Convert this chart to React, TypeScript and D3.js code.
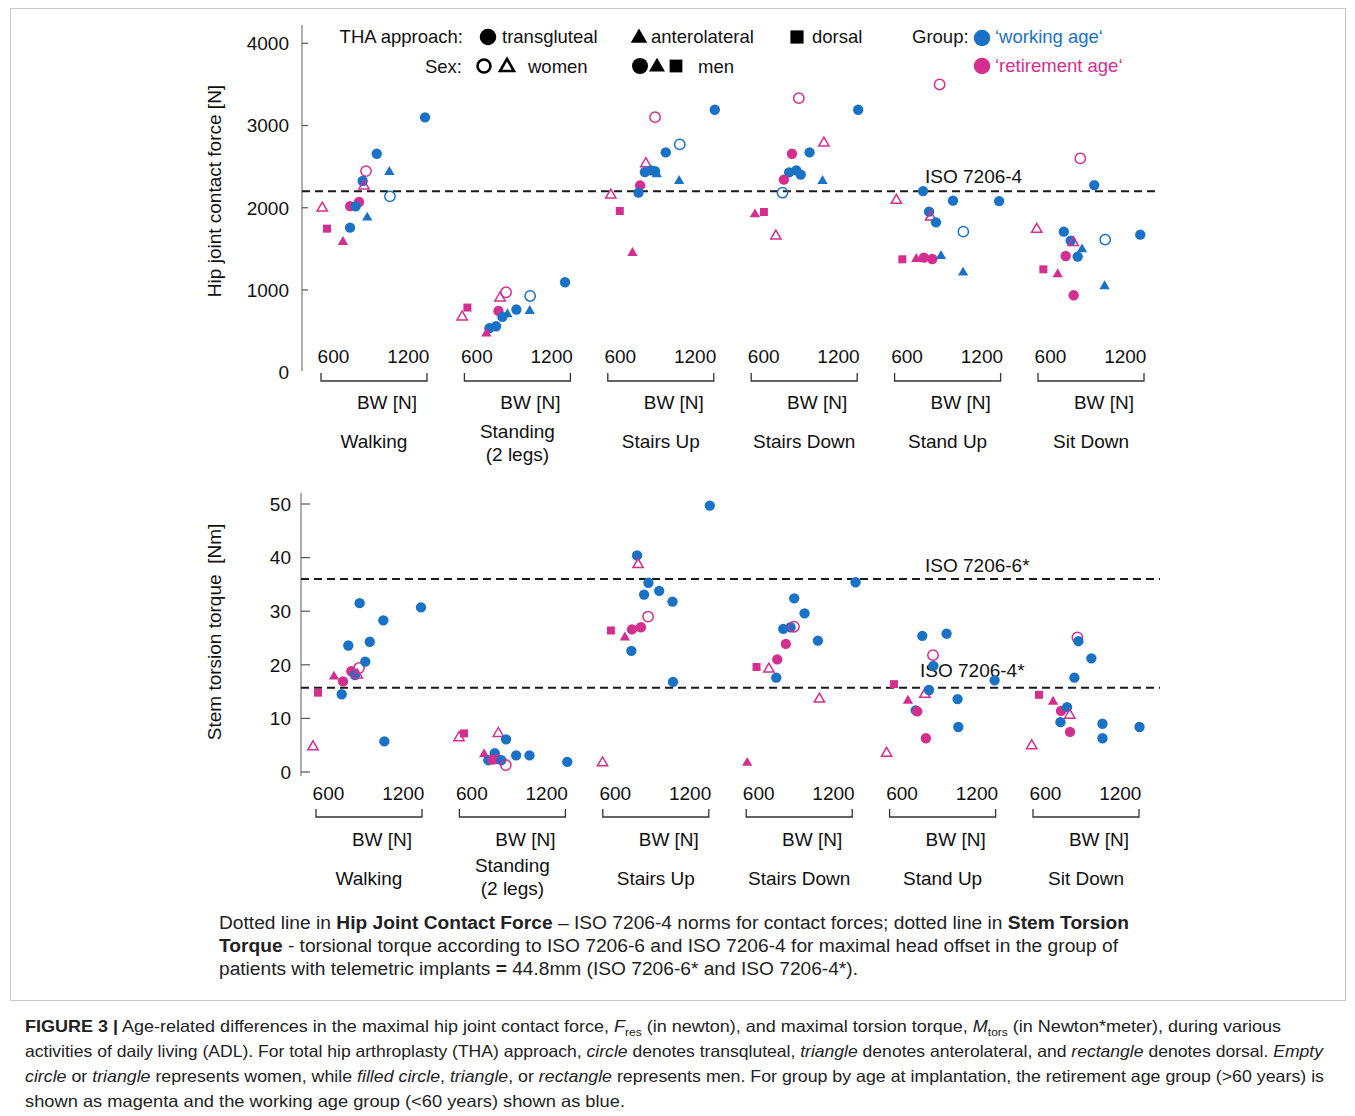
import React, { useEffect } from "react";
import * as d3 from "d3";

// ---------- data ----------
const activities = ["Walking", "Standing", "Stairs Up", "Stairs Down", "Stand Up", "Sit Down"];
const activityLabels = [["Walking"], ["Standing", "(2 legs)"], ["Stairs Up"], ["Stairs Down"], ["Stand Up"], ["Sit Down"]];
const bwTicks = [600, 1200];
const bwDomain = [500, 1350];
const forceTicks = [0, 1000, 2000, 3000, 4000];
const torqueTicks = [0, 10, 20, 30, 40, 50];
const forceLimits = [{ value: 2200, label: "ISO 7206-4" }];
const torqueLimits = [
  { value: 36, label: "ISO 7206-6*" },
  { value: 15.7, label: "ISO 7206-4*" },
];

// [BW (N), value, approach T=transgluteal A=anterolateral D=dorsal, sex M/W, group WA=working age RA=retirement age]
type Pt = [number, number, string, string, string];

const forceWalking: Pt[] = [
  [1334, 3100, "T", "M", "WA"], [947, 2657, "T", "M", "WA"], [1048, 2434, "A", "M", "WA"],
  [861, 2446, "T", "W", "RA"], [834, 2325, "T", "M", "WA"], [845, 2264, "A", "W", "RA"],
  [1053, 2139, "T", "W", "WA"], [805, 2070, "T", "M", "RA"], [733, 2020, "T", "M", "RA"],
  [778, 2017, "T", "M", "WA"], [510, 1996, "A", "W", "RA"], [871, 1880, "A", "M", "WA"],
  [733, 1758, "T", "M", "WA"], [548, 1746, "D", "M", "RA"], [676, 1583, "A", "M", "RA"],
];
const forceStanding: Pt[] = [
  [1307, 1094, "T", "M", "WA"], [1027, 927, "T", "W", "WA"], [834, 972, "T", "W", "RA"],
  [786, 903, "A", "W", "RA"], [524, 786, "D", "M", "RA"], [482, 672, "A", "W", "RA"],
  [773, 745, "T", "M", "RA"], [917, 762, "T", "M", "WA"], [1024, 745, "A", "M", "WA"],
  [845, 705, "A", "M", "WA"], [805, 672, "T", "M", "WA"], [754, 559, "T", "M", "WA"],
  [701, 535, "T", "M", "WA"], [676, 470, "A", "M", "RA"],
];
const forceStairsUp: Pt[] = [
  [1358, 3192, "T", "M", "WA"], [879, 3102, "T", "W", "RA"], [1077, 2770, "T", "W", "WA"],
  [965, 2673, "T", "M", "WA"], [805, 2536, "A", "W", "RA"], [797, 2434, "T", "M", "WA"],
  [845, 2454, "T", "M", "WA"], [879, 2446, "T", "M", "WA"], [893, 2406, "A", "M", "WA"],
  [1072, 2325, "A", "M", "WA"], [759, 2272, "T", "M", "RA"], [746, 2183, "T", "M", "WA"],
  [524, 2154, "A", "W", "RA"], [596, 1960, "D", "M", "RA"], [698, 1450, "A", "M", "RA"],
];
const forceStairsDown: Pt[] = [
  [882, 3333, "T", "W", "RA"], [1358, 3192, "T", "M", "WA"], [1083, 2786, "A", "W", "RA"],
  [827, 2657, "T", "M", "RA"], [968, 2673, "T", "M", "WA"], [804, 2430, "T", "M", "WA"],
  [862, 2454, "T", "M", "WA"], [897, 2402, "T", "M", "WA"], [1072, 2325, "A", "M", "WA"],
  [762, 2342, "T", "M", "RA"], [751, 2183, "T", "W", "WA"], [530, 1920, "A", "M", "RA"],
  [602, 1948, "D", "M", "RA"], [698, 1656, "A", "W", "RA"],
];
const forceStandUp: Pt[] = [
  [861, 3499, "T", "W", "RA"], [728, 2203, "T", "M", "WA"], [514, 2090, "A", "W", "RA"],
  [968, 2086, "T", "M", "WA"], [1338, 2081, "T", "M", "WA"], [776, 1952, "T", "M", "WA"],
  [789, 1887, "A", "W", "RA"], [832, 1823, "T", "M", "WA"], [1051, 1709, "T", "W", "WA"],
  [562, 1373, "D", "M", "RA"], [674, 1377, "A", "M", "RA"], [735, 1394, "T", "M", "RA"],
  [802, 1377, "T", "M", "RA"], [872, 1413, "A", "M", "WA"], [1049, 1211, "A", "M", "WA"],
];
const forceSitDown: Pt[] = [
  [839, 2600, "T", "W", "RA"], [951, 2276, "T", "M", "WA"], [490, 1738, "A", "W", "RA"],
  [707, 1709, "T", "M", "WA"], [1039, 1612, "T", "W", "WA"], [1320, 1673, "T", "M", "WA"],
  [762, 1600, "T", "M", "WA"], [783, 1576, "A", "W", "RA"], [853, 1494, "A", "M", "WA"],
  [722, 1413, "T", "M", "RA"], [818, 1406, "T", "M", "WA"], [543, 1251, "D", "M", "RA"],
  [658, 1191, "A", "M", "RA"], [1034, 1045, "A", "M", "WA"], [786, 936, "T", "M", "RA"],
];

const torqueWalking: Pt[] = [
  [476, 4.7, "A", "W", "RA"], [516, 14.8, "D", "M", "RA"], [706, 14.5, "T", "M", "WA"],
  [644, 17.8, "A", "M", "RA"], [717, 16.9, "T", "M", "RA"], [783, 18.8, "T", "M", "RA"],
  [813, 18.1, "T", "M", "WA"], [831, 18.1, "A", "W", "RA"], [845, 19.4, "T", "W", "RA"],
  [895, 20.6, "T", "M", "WA"], [759, 23.6, "T", "M", "WA"], [931, 24.3, "T", "M", "WA"],
  [850, 31.5, "T", "M", "WA"], [1040, 28.3, "T", "M", "WA"], [1048, 5.7, "T", "M", "WA"],
  [1342, 30.7, "T", "M", "WA"],
];
const torqueStanding: Pt[] = [
  [497, 6.4, "A", "W", "RA"], [537, 7.2, "D", "M", "RA"], [812, 7.2, "A", "W", "RA"],
  [874, 6.1, "T", "M", "WA"], [698, 3.3, "A", "M", "RA"], [732, 2.2, "T", "M", "WA"],
  [783, 3.5, "T", "M", "WA"], [765, 2.3, "T", "M", "RA"], [805, 2.4, "T", "M", "RA"],
  [837, 2.2, "T", "M", "WA"], [872, 1.3, "T", "W", "RA"], [955, 3.1, "T", "M", "WA"],
  [1062, 3.1, "T", "M", "WA"], [1365, 1.9, "T", "M", "WA"],
];
const torqueStairsUp: Pt[] = [
  [498, 1.7, "A", "W", "RA"], [1358, 49.7, "T", "M", "WA"], [775, 40.4, "T", "M", "WA"],
  [783, 38.7, "A", "W", "RA"], [866, 35.3, "T", "M", "WA"], [831, 33.1, "T", "M", "WA"],
  [952, 33.8, "T", "M", "WA"], [1059, 31.8, "T", "M", "WA"], [863, 29.0, "T", "W", "RA"],
  [565, 26.4, "D", "M", "RA"], [734, 26.6, "T", "M", "RA"], [806, 27.0, "T", "M", "RA"],
  [677, 25.1, "A", "M", "RA"], [729, 22.6, "T", "M", "WA"], [1063, 16.8, "T", "M", "WA"],
];
const torqueStairsDown: Pt[] = [
  [508, 1.7, "A", "M", "RA"], [1377, 35.4, "T", "M", "WA"], [885, 32.4, "T", "M", "WA"],
  [968, 29.6, "T", "M", "WA"], [797, 26.7, "T", "M", "WA"], [856, 27.0, "T", "M", "WA"],
  [883, 27.1, "T", "W", "RA"], [818, 23.9, "T", "M", "RA"], [1075, 24.5, "T", "M", "WA"],
  [749, 21.0, "T", "M", "RA"], [583, 19.6, "D", "M", "RA"], [682, 19.2, "A", "W", "RA"],
  [741, 17.6, "T", "M", "WA"], [1087, 13.6, "A", "W", "RA"],
];
const torqueStandUp: Pt[] = [
  [476, 3.5, "A", "W", "RA"], [535, 16.4, "D", "M", "RA"], [647, 13.3, "A", "M", "RA"],
  [709, 11.5, "T", "M", "WA"], [722, 11.3, "T", "M", "RA"], [783, 14.5, "A", "W", "RA"],
  [816, 15.3, "T", "M", "WA"], [851, 19.8, "T", "M", "WA"], [848, 21.8, "T", "W", "RA"],
  [762, 25.4, "T", "M", "WA"], [957, 25.8, "T", "M", "WA"], [1045, 13.6, "T", "M", "WA"],
  [1051, 8.4, "T", "M", "WA"], [791, 6.3, "T", "M", "RA"], [1342, 17.1, "T", "M", "WA"],
];
const torqueSitDown: Pt[] = [
  [490, 4.9, "A", "W", "RA"], [548, 14.4, "D", "M", "RA"], [661, 13.1, "A", "M", "RA"],
  [725, 11.4, "T", "M", "RA"], [773, 12.1, "T", "M", "WA"], [720, 9.3, "T", "M", "WA"],
  [795, 10.6, "A", "W", "RA"], [797, 7.5, "T", "M", "RA"], [832, 17.6, "T", "M", "WA"],
  [856, 25.1, "T", "W", "RA"], [864, 24.4, "T", "M", "WA"], [968, 21.2, "T", "M", "WA"],
  [1057, 9.0, "T", "M", "WA"], [1057, 6.3, "T", "M", "WA"], [1354, 8.4, "T", "M", "WA"],
];

const forceData = [forceWalking, forceStanding, forceStairsUp, forceStairsDown, forceStandUp, forceSitDown];
const torqueData = [torqueWalking, torqueStanding, torqueStairsUp, torqueStairsDown, torqueStandUp, torqueSitDown];

// ---------- styles ----------
const FONT = "'Liberation Sans', Arial, Helvetica, sans-serif";
const BLUE = "#1a72c6";
const MAGENTA = "#d42f8f";
const TXT = "#111";
const groupColor: Record<string, string> = { WA: BLUE, RA: MAGENTA };
const symType: Record<string, any> = { T: d3.symbolCircle, A: d3.symbolTriangle, D: d3.symbolSquare };
const symSize: Record<string, number> = { T: 84, A: 46, D: 64 };

function Marker({ x, y, a, sex, color, scale = 1, sw = 1.5 }: any) {
  const d = d3.symbol(symType[a], symSize[a] * scale * scale)() as string;
  const filled = sex === "M";
  return (
    <path
      d={d}
      transform={`translate(${x},${y})`}
      fill={filled ? color : "none"}
      stroke={filled ? "none" : color}
      strokeWidth={filled ? 0 : sw}
    />
  );
}

function Panel({ cfg }: any) {
  const y = d3.scaleLinear().domain(cfg.yDomain).range(cfg.yRange);
  const gx = d3.scalePoint().domain(activities).range(cfg.groupRange);
  const bw = d3.scaleLinear().domain(bwDomain).range([0, 106]);
  const bracketW = bw(bwDomain[1]);
  return (
    <g fontFamily={FONT} fill={TXT}>
      {/* y axis */}
      <line x1={cfg.axisX} x2={cfg.axisX} y1={cfg.axisTop} y2={cfg.axisBottom} stroke="#777" strokeWidth={1.2} />
      {cfg.ticks.map((t: number) => (
        <g key={t}>
          {(t !== 0 || cfg.zeroTick) && (
            <line x1={cfg.axisX} x2={cfg.axisX + cfg.tickLen} y1={y(t)} y2={y(t)} stroke="#555" strokeWidth={1.2} />
          )}
          <text x={cfg.tickLabelX} y={y(t)} dy="0.36em" textAnchor="end" fontSize={19}>
            {t}
          </text>
        </g>
      ))}
      <text
        transform={`translate(${cfg.ylabelPos[0]},${cfg.ylabelPos[1]}) rotate(-90)`}
        textAnchor="middle"
        dy="0.36em"
        fontSize={19}
        style={{ whiteSpace: "pre" }}
      >
        {cfg.ylabel}
      </text>

      {/* limit lines */}
      {cfg.limits.map((l: any, i: number) => (
        <g key={l.label}>
          <line x1={cfg.axisX} x2={1160} y1={y(l.value)} y2={y(l.value)} stroke="#1a1a1a" strokeWidth={2} strokeDasharray="8 5" />
          <text x={cfg.limitLabelPos[i][0]} y={cfg.limitLabelPos[i][1]} fontSize={19}>
            {l.label}
          </text>
        </g>
      ))}

      {/* group x axes */}
      {activities.map((act, i) => {
        const x0 = gx(act) as number;
        const lab = activityLabels[i];
        return (
          <g key={act}>
            {bwTicks.map((t) => (
              <text key={t} x={x0 + bw(t)} y={cfg.numY} textAnchor="middle" fontSize={19}>
                {t}
              </text>
            ))}
            <path
              d={`M${x0},${cfg.bracketY - 8}V${cfg.bracketY}H${x0 + bracketW}V${cfg.bracketY - 8}`}
              fill="none"
              stroke="#333"
              strokeWidth={1.3}
            />
            <text x={x0 + bracketW / 2 + 13} y={cfg.bwY} textAnchor="middle" fontSize={19}>
              BW [N]
            </text>
            {lab.length === 1 ? (
              <text x={x0 + bracketW / 2} y={cfg.nameY} textAnchor="middle" fontSize={19}>
                {lab[0]}
              </text>
            ) : (
              lab.map((s, k) => (
                <text key={s} x={x0 + bracketW / 2} y={cfg.name2Y[k]} textAnchor="middle" fontSize={19}>
                  {s}
                </text>
              ))
            )}
            {cfg.data[i].map((p: Pt, k: number) => (
              <Marker key={k} x={x0 + bw(p[0])} y={y(p[1])} a={p[2]} sex={p[3]} color={groupColor[p[4]]} />
            ))}
          </g>
        );
      })}
    </g>
  );
}

const topCfg = {
  data: forceData,
  yDomain: [0, 4000],
  yRange: [372.2, 43.3],
  ticks: forceTicks,
  tickLen: 6,
  zeroTick: false,
  axisX: 302,
  axisTop: 25,
  axisBottom: 371,
  tickLabelX: 289,
  groupRange: [321, 1038],
  bracketY: 381,
  numY: 363,
  bwY: 409,
  nameY: 448,
  name2Y: [438, 461],
  limits: forceLimits,
  limitLabelPos: [[925, 183]],
  ylabel: "Hip joint contact force [N]",
  ylabelPos: [214, 191],
};

const botCfg = {
  data: torqueData,
  yDomain: [0, 50],
  yRange: [772, 504],
  ticks: torqueTicks,
  tickLen: 9,
  zeroTick: true,
  axisX: 301,
  axisTop: 493,
  axisBottom: 776,
  tickLabelX: 291,
  groupRange: [316, 1033],
  bracketY: 817,
  numY: 800,
  bwY: 846,
  nameY: 885,
  name2Y: [872, 895],
  limits: torqueLimits,
  limitLabelPos: [
    [925, 572],
    [920, 677],
  ],
  ylabel: "Stem torsion torque  [Nm]",
  ylabelPos: [214, 632],
};

function Legend() {
  const fs = 18.5;
  return (
    <g fontFamily={FONT} fontSize={fs} fill={TXT}>
      <text x={463} y={43} textAnchor="end">THA approach:</text>
      <Marker x={488} y={37} a="T" sex="M" color="#000" scale={1.6} />
      <text x={502} y={43}>transgluteal</text>
      <Marker x={639} y={38} a="A" sex="M" color="#000" scale={1.6} />
      <text x={651} y={43}>anterolateral</text>
      <Marker x={797} y={37} a="D" sex="M" color="#000" scale={1.65} />
      <text x={812} y={43}>dorsal</text>

      <text x={462} y={73} textAnchor="end">Sex:</text>
      <Marker x={484} y={66} a="T" sex="W" color="#000" scale={1.25} sw={2.6} />
      <Marker x={507} y={67} a="A" sex="W" color="#000" scale={1.35} sw={2.6} />
      <text x={528} y={73}>women</text>
      <Marker x={640} y={66} a="T" sex="M" color="#000" scale={1.55} />
      <Marker x={657} y={67} a="A" sex="M" color="#000" scale={1.55} />
      <Marker x={676} y={66} a="D" sex="M" color="#000" scale={1.6} />
      <text x={698} y={73}>men</text>

      <text x={912} y={43}>Group:</text>
      <Marker x={982} y={38} a="T" sex="M" color={BLUE} scale={1.6} />
      <text x={995} y={43} fill={BLUE}>‘working age‘</text>
      <Marker x={982} y={66} a="T" sex="M" color={MAGENTA} scale={1.6} />
      <text x={995} y={72} fill={MAGENTA}>‘retirement age‘</text>
    </g>
  );
}

function Captions() {
  return (
    <g fontFamily={FONT} fill="#222">
      <g fontSize={18}>
        <text x={219} y={929} textLength={910} lengthAdjust="spacingAndGlyphs">
          Dotted line in <tspan fontWeight="bold">Hip Joint Contact Force</tspan> – ISO 7206-4 norms for contact forces; dotted line in{" "}
          <tspan fontWeight="bold">Stem Torsion</tspan>
        </text>
        <text x={219} y={952} textLength={899} lengthAdjust="spacingAndGlyphs">
          <tspan fontWeight="bold">Torque</tspan> - torsional torque according to ISO 7206-6 and ISO 7206-4 for maximal head offset in the group of
        </text>
        <text x={219} y={975} textLength={639} lengthAdjust="spacingAndGlyphs">
          patients with telemetric implants <tspan fontWeight="bold">=</tspan> 44.8mm (ISO 7206-6* and ISO 7206-4*).
        </text>
      </g>
      <g fontSize={16.5}>
        <text x={25} y={1032} textLength={1256} lengthAdjust="spacingAndGlyphs">
          <tspan fontWeight="bold">FIGURE 3 |</tspan> Age-related differences in the maximal hip joint contact force, <tspan fontStyle="italic">F</tspan>
          <tspan fontSize={11} dy={4}>res</tspan>
          <tspan dy={-4}> (in newton), and maximal torsion torque, </tspan>
          <tspan fontStyle="italic">M</tspan>
          <tspan fontSize={11} dy={4}>tors</tspan>
          <tspan dy={-4}> (in Newton*meter), during various</tspan>
        </text>
        <text x={25} y={1057} textLength={1298} lengthAdjust="spacingAndGlyphs">
          activities of daily living (ADL). For total hip arthroplasty (THA) approach, <tspan fontStyle="italic">circle</tspan> denotes transqluteal,{" "}
          <tspan fontStyle="italic">triangle</tspan> denotes anterolateral, and <tspan fontStyle="italic">rectangle</tspan> denotes dorsal.{" "}
          <tspan fontStyle="italic">Empty</tspan>
        </text>
        <text x={25} y={1082} textLength={1299} lengthAdjust="spacingAndGlyphs">
          <tspan fontStyle="italic">circle</tspan> or <tspan fontStyle="italic">triangle</tspan> represents women, while{" "}
          <tspan fontStyle="italic">filled circle</tspan>, <tspan fontStyle="italic">triangle</tspan>, or <tspan fontStyle="italic">rectangle</tspan> represents men. For
          group by age at implantation, the retirement age group (&gt;60 years) is
        </text>
        <text x={25} y={1107} textLength={600} lengthAdjust="spacingAndGlyphs">
          shown as magenta and the working age group (&lt;60 years) shown as blue.
        </text>
      </g>
    </g>
  );
}

export default function App() {
  useEffect(() => {
    document.body.style.margin = "0";
  }, []);
  return (
    <svg width={1355} height={1116} style={{ display: "block", background: "#fff" }}>
      <rect x={10.5} y={8.5} width={1335} height={992} fill="none" stroke="#c8c8c8" strokeWidth={1} />
      <Legend />
      <Panel cfg={topCfg} />
      <Panel cfg={botCfg} />
      <Captions />
    </svg>
  );
}
